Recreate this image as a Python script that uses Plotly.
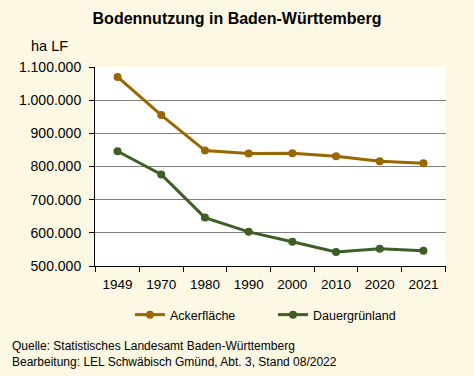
import plotly.graph_objects as go

years = ["1949", "1970", "1980", "1990", "2000", "2010", "2020", "2021"]
ackerflaeche = [1070000, 955000, 848000, 839000, 840000, 831000, 816000, 810000]
dauergruenland = [846000, 776000, 646000, 603000, 573000, 542000, 552000, 546000]
y_ticks = [500000, 600000, 700000, 800000, 900000, 1000000, 1100000]
y_labels = ["500.000", "600.000", "700.000", "800.000", "900.000", "1.000.000", "1.100.000"]

font = "Liberation Sans, Arial, sans-serif"
c_acker = "#996600"
c_gruen = "#3D5F26"

W, H = 474, 376
L, R, T, B = 95, 28, 67, 110
pw, ph = W - L - R, H - T - B


def px2paper(px, py):
    return (px - L) / pw, 1 - (py - T) / ph


fig = go.Figure()
fig.add_trace(go.Scatter(x=years, y=ackerflaeche, name="Ackerfläche", mode="lines+markers",
                         line=dict(color=c_acker, width=3), marker=dict(color=c_acker, size=8)))
fig.add_trace(go.Scatter(x=years, y=dauergruenland, name="Dauergrünland", mode="lines+markers",
                         line=dict(color=c_gruen, width=3), marker=dict(color=c_gruen, size=8)))

ha_x, ha_y = px2paper(29, 46)
q_x, q_y = px2paper(10, 354)
lg_x, lg_y = px2paper(130, 315)

fig.update_layout(
    width=W, height=H,
    paper_bgcolor="#FCF8E4", plot_bgcolor="#FFFFFF",
    margin=dict(l=L, r=R, t=T, b=B),
    font=dict(family=font, size=13, color="#000000"),
    title=dict(text="<b>Bodennutzung in Baden-Württemberg</b>", x=0.5, xanchor="center",
               y=1 - 18 / H, yanchor="middle", font=dict(size=16, family=font)),
    showlegend=True,
    legend=dict(orientation="h", x=lg_x, xanchor="left", y=lg_y, yanchor="middle",
                font=dict(size=12.5, family=font), bgcolor="rgba(0,0,0,0)",
                entrywidth=98, entrywidthmode="pixels"),
    xaxis=dict(type="category", tickson="boundaries", ticks="outside", ticklen=5,
               tickcolor="#000", showline=True, linecolor="#000", linewidth=1,
               showgrid=False, tickfont=dict(size=13.5), ticklabelstandoff=6),
    yaxis=dict(range=[500000, 1100000], tickvals=y_ticks, ticktext=y_labels,
               ticks="outside", ticklen=5, tickcolor="#000", showline=True,
               linecolor="#000", linewidth=1, gridcolor="#808080", gridwidth=1,
               tickfont=dict(size=14), zeroline=False, ticklabelstandoff=5),
    annotations=[
        dict(text="ha LF", x=ha_x, y=ha_y, xref="paper", yref="paper", showarrow=False,
             font=dict(size=14.5, family=font), xanchor="left", yanchor="middle"),
        dict(text="Quelle: Statistisches Landesamt Baden-Württemberg<br>Bearbeitung: LEL Schwäbisch Gmünd, Abt. 3, Stand 08/2022",
             x=q_x, y=q_y, xref="paper", yref="paper", showarrow=False,
             font=dict(size=12, family=font),
             xanchor="left", yanchor="middle", align="left"),
    ],
)

fig.write_html("out.html", config={"displayModeBar": False},
               post_script="document.body.style.margin='0';document.body.style.overflow='hidden';")
